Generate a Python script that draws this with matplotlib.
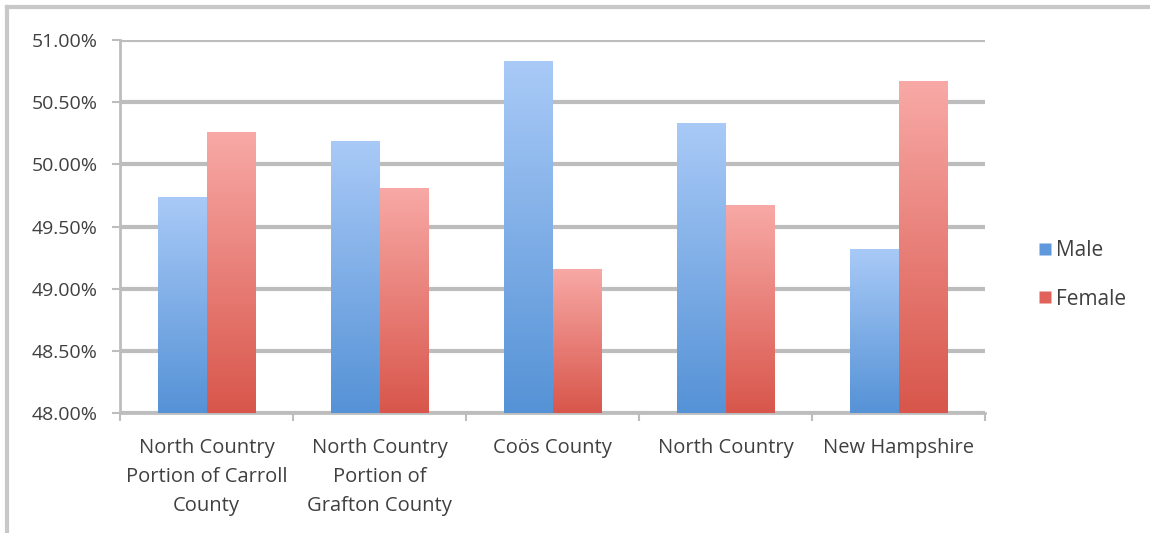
import numpy as np
import matplotlib.pyplot as plt
from matplotlib.colors import LinearSegmentedColormap
from matplotlib.lines import Line2D
from matplotlib.ticker import FuncFormatter

categories = ["North Country\nPortion of Carroll\nCounty",
              "North Country\nPortion of\nGrafton County",
              "Coös County",
              "North Country",
              "New Hampshire"]
male = [49.74, 50.19, 50.83, 50.33, 49.32]
female = [50.26, 49.81, 49.16, 49.67, 50.67]
y_ticks = [48.0, 48.5, 49.0, 49.5, 50.0, 50.5, 51.0]

plt.rcParams['font.family'] = ['Open Sans', 'DejaVu Sans']
text_color = '#404040'
grid_color = '#bdbdbd'

fig = plt.figure(figsize=(11.5, 5.33), dpi=100)
ax = fig.add_axes([120 / 1150, 1 - 413 / 533, 865 / 1150, 373 / 533])

x = np.arange(len(categories))
w = 0.278

blue = LinearSegmentedColormap.from_list('blue', ['#5592d6', '#a9caf7'])
red = LinearSegmentedColormap.from_list('red', ['#d8564b', '#f8a9a6'])
grad = np.linspace(0, 1, 256).reshape(-1, 1)

def gradient_bars(xs, vals, cmap):
    bars = ax.bar(xs, np.array(vals) - y_ticks[0], w, bottom=y_ticks[0],
                  color='none', edgecolor='none', zorder=3)
    for b in bars:
        x0, y0 = b.get_x(), b.get_y()
        im = ax.imshow(grad, cmap=cmap, origin='lower', aspect='auto',
                       extent=[x0, x0 + b.get_width(), y0, y0 + b.get_height()],
                       zorder=3)
        im.set_clip_path(b)
    return bars

gradient_bars(x - w / 2, male, blue)
gradient_bars(x + w / 2, female, red)

ax.set_xlim(-0.5, len(categories) - 0.5)
ax.set_ylim(y_ticks[0], y_ticks[-1])
ax.set_yticks(y_ticks)
ax.yaxis.set_major_formatter(FuncFormatter(lambda v, p: f"{v:.2f}%"))
ax.yaxis.grid(True, color=grid_color, linewidth=3, zorder=0)
ax.set_axisbelow(True)

ax.set_xticks(np.arange(len(categories) + 1) - 0.5)
ax.set_xticklabels([])
ax.set_xticks(x, minor=True)
ax.set_xticklabels(categories, minor=True, fontsize=14.5, color=text_color,
                   linespacing=1.6)
ax.tick_params(axis='x', which='minor', length=0, pad=18)
ax.tick_params(axis='x', which='major', length=6, width=1.5, color=grid_color,
               direction='out')
ax.tick_params(axis='y', length=6, width=1.5, color=grid_color, direction='out',
               labelsize=14, labelcolor=text_color, pad=10)

for s in ['top', 'right']:
    ax.spines[s].set_visible(False)
for s in ['left', 'bottom']:
    ax.spines[s].set_color(grid_color)
    ax.spines[s].set_linewidth(2)

handles = [Line2D([], [], marker='s', linestyle='none', markersize=9,
                  markerfacecolor='#5f98dc', markeredgecolor='none'),
           Line2D([], [], marker='s', linestyle='none', markersize=9,
                  markerfacecolor='#e0625a', markeredgecolor='none')]
fig.legend(handles, ['Male', 'Female'], loc='center left',
           bbox_to_anchor=(1020 / 1150, 1 - 275 / 533), frameon=False,
           fontsize=15, labelcolor=text_color, handlelength=0.6,
           handletextpad=0.25, labelspacing=1.3)

# grey frame along the top and left edge
fig.add_artist(Line2D([7 / 1150, 1], [1 - 7 / 533, 1 - 7 / 533],
                      color='#c8c8c8', linewidth=3, transform=fig.transFigure))
fig.add_artist(Line2D([7 / 1150, 7 / 1150], [0, 1 - 7 / 533],
                      color='#c8c8c8', linewidth=3, transform=fig.transFigure))

fig.savefig('out.png', dpi=100)
